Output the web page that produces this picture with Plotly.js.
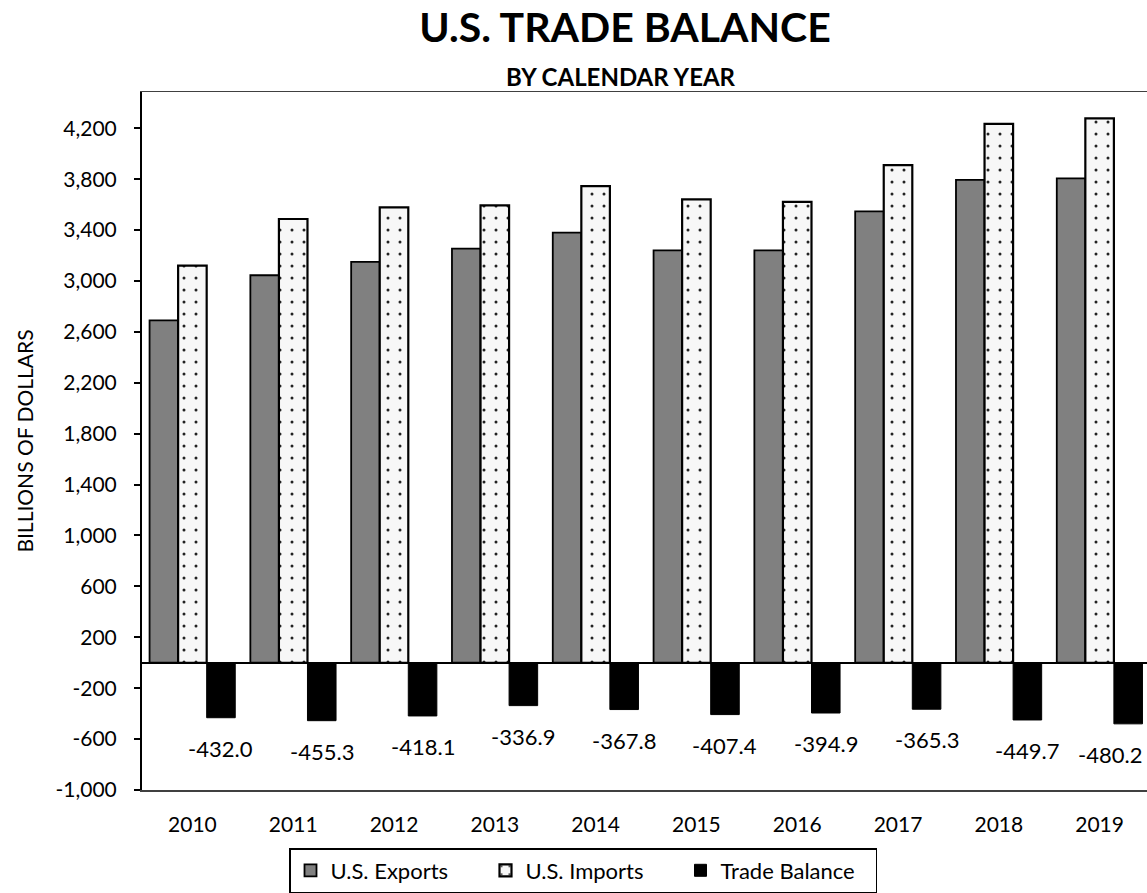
<!DOCTYPE html>
<html>
<head>
<meta charset="utf-8">
<script src="https://cdn.plot.ly/plotly-3.0.1.min.js"></script>
<style>html,body{margin:0;padding:0;background:#fff;}#chart{width:1147px;height:893px;}</style>
</head>
<body>
<div id="chart"></div>
<script>
// ---- data ----
const years = ['2010','2011','2012','2013','2014','2015','2016','2017','2018','2019'];
const exportsVals = [2690, 3045, 3150, 3255, 3380, 3240, 3240, 3547, 3794, 3807];
const importsVals = [3120, 3487, 3578, 3594, 3745, 3641, 3622, 3911, 4234, 4278];
const balanceVals = [-432.0, -455.3, -418.1, -336.9, -367.8, -407.4, -394.9, -365.3, -449.7, -480.2];
const yTickVals = [-1000, -600, -200, 200, 600, 1000, 1400, 1800, 2200, 2600, 3000, 3400, 3800, 4200];
const yTickText = ['-1,000', '-600', '-200', '200', '600', '1,000', '1,400', '1,800', '2,200', '2,600', '3,000', '3,400', '3,800', '4,200'];

const FONT = 'Lato, "Open Sans", sans-serif';
const bargap = 0.15;
const barW = (1 - bargap) / 3;

const traces = [
  {type:'bar', name:'U.S. Exports', x: years, y: exportsVals,
   marker:{color:'#808080', line:{color:'#000', width:1.8}}},
  {type:'bar', name:'U.S. Imports', x: years, y: importsVals,
   marker:{color:'#ffffff', line:{color:'#000', width:2.2},
     pattern:{shape:'.', fgcolor:'#222', bgcolor:'#f7f7f7', size:12, solidity:0.05}}},
  {type:'bar', name:'Trade Balance', x: years, y: balanceVals,
   marker:{color:'#000', line:{color:'#000', width:1}}}
];

const annotations = balanceVals.map((v, i) => ({
  x: i + barW, y: v, xref:'x', yref:'y',
  text: v.toFixed(1), showarrow:false,
  xanchor: 'center', yanchor:'top', yshift: -15,
  xshift: (i === years.length - 1) ? -18 : 0,
  font:{family:FONT, size:22, color:'#000'}
}));
annotations.push({
  text:'<b>BY CALENDAR YEAR</b>', xref:'paper', yref:'paper',
  x: (621-142)/1005, y: (790-76)/698, xanchor:'center', yanchor:'middle', showarrow:false,
  font:{family:FONT, size:24, color:'#000'}
});

const layout = {
  width:1147, height:893,
  paper_bgcolor:'#fff', plot_bgcolor:'#fff',
  margin:{l:142, r:0, t:92, b:103},
  font:{family:FONT, color:'#000'},
  title:{text:'<b>U.S. TRADE BALANCE</b>', xref:'container', yref:'container',
    x: 625/1147, y: 1 - 28/893, xanchor:'center', yanchor:'middle',
    font:{family:FONT, size:41, color:'#000'}},
  barmode:'group', bargap: bargap, bargroupgap: 0,
  showlegend:true,
  legend:{orientation:'h', xref:'container', yref:'container',
    x: 583/1147, y: 1 - 848/893, xanchor:'center', yanchor:'top',
    bordercolor:'#000', borderwidth:1.5, bgcolor:'#fff',
    entrywidth:150, entrywidthmode:'pixels',
    font:{family:FONT, size:22, color:'#000'}, traceorder:'normal'},
  xaxis:{type:'category', range:[-0.5, 9.47], showgrid:false, zeroline:false,
    showline:true, mirror:true, linecolor:'#404040', linewidth:1.5,
    ticks:'', ticklabelstandoff:15,
    tickfont:{family:FONT, size:21, color:'#000'}, fixedrange:true},
  yaxis:{range:[-1000, 4485], tickvals:yTickVals, ticktext:yTickText,
    showgrid:false, zeroline:true, zerolinecolor:'#000', zerolinewidth:2,
    showline:true, linecolor:'#000', linewidth:2, ticks:'outside', ticklen:6, tickwidth:2, tickcolor:'#000',
    ticklabelstandoff:13,
    tickfont:{family:FONT, size:21, color:'#000'},
    title:{text:'BILLIONS OF DOLLARS', standoff:16, font:{family:FONT, size:21, color:'#000'}}},
  annotations: annotations
};

Plotly.newPlot('chart', traces, layout, {staticPlot:true, displayModeBar:false});
</script>
</body>
</html>
